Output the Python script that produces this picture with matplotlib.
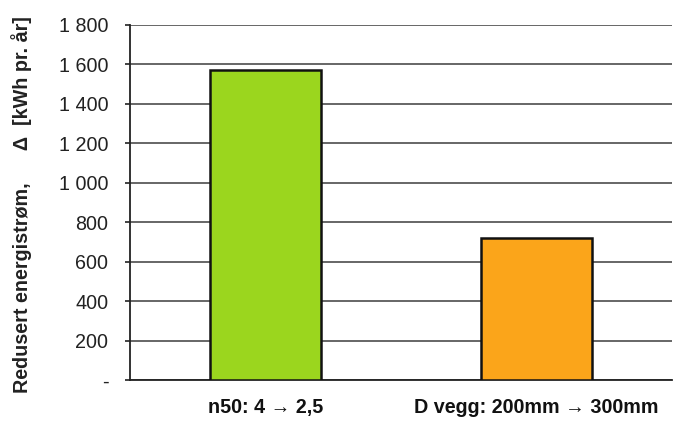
import matplotlib.pyplot as plt
import numpy as np

plt.rcParams['font.family'] = ['Liberation Sans', 'DejaVu Sans']

# tiltak og redusert energistrøm (kWh pr. år)
tiltak = ['n50: 4 \u2192 2,5', 'D vegg: 200mm \u2192 300mm']
redusert = [1572, 721]
farger = ['#9BD61E', '#FBA51A']

y_ticks = [0, 200, 400, 600, 800, 1000, 1200, 1400, 1600, 1800]
y_labels = ['-', '200', '400', '600', '800', '1 000', '1 200', '1 400', '1 600', '1 800']

fig = plt.figure(figsize=(6.74, 4.21), dpi=100)
ax = fig.add_axes([130 / 674, 41 / 421, 542 / 674, 355 / 421])

x = np.arange(len(tiltak))
ax.bar(x, redusert, width=0.41, color=farger, edgecolor='#111111', linewidth=1.8, zorder=3)

ax.set_xlim(-0.5, 1.5)
ax.set_ylim(0, 1800)
ax.set_yticks(y_ticks)
ax.set_yticklabels(y_labels)
ax.set_xticks(x)
ax.set_xticklabels(tiltak, fontweight='bold')

ax.yaxis.grid(True, color='#5a5a5a', linewidth=1.3, zorder=0)
for side in ['top', 'right']:
    ax.spines[side].set_visible(False)
ax.spines['left'].set_color('#222222')
ax.spines['left'].set_linewidth(1.3)
ax.spines['bottom'].set_color('#222222')
ax.spines['bottom'].set_linewidth(1.3)

ax.tick_params(axis='y', length=3.6, width=1.2, color='#222222', pad=12, labelsize=14.2, labelcolor='#222222')
ax.tick_params(axis='x', length=0, pad=13, labelsize=14.2, labelcolor='#111111')

fig.text(22 / 674, 0.515, 'Redusert energistrøm,      \u0394  [kWh pr. år]',
         rotation=90, ha='center', va='center', fontsize=14.2, fontweight='bold', color='#222222')

fig.savefig('out.png', dpi=100)
